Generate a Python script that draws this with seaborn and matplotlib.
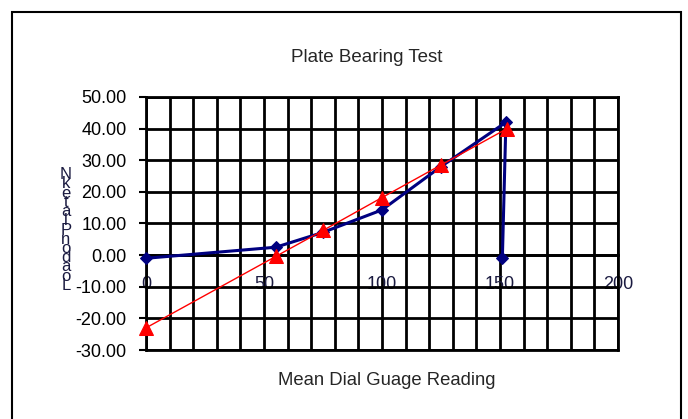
import matplotlib
matplotlib.use("Agg")
import matplotlib.pyplot as plt
import matplotlib.patches as patches
from matplotlib.ticker import MultipleLocator, FormatStrFormatter
import seaborn as sns

# values
measured_x = [0, 55, 75, 100, 125, 152.5, 151]
measured_y = [-1.0, 2.5, 7.2, 14.3, 28.0, 42.0, -1.0]
fitted_x = [0, 55, 75, 100, 125, 153]
fitted_y = [-23.0, -0.4, 7.8, 18.2, 28.5, 40.0]

title = "Plate Bearing Test"
x_label = "Mean Dial Guage Reading"
y_label = "Load on Plate kN"

sns.set_style("white")
plt.rcParams['font.family'] = ['Liberation Sans', 'DejaVu Sans']

fig = plt.figure(figsize=(6.88, 4.19), dpi=100)
ax = fig.add_axes([146 / 688, 1 - 350 / 419, 472 / 688, 253 / 419])

sns.lineplot(x=measured_x, y=measured_y, sort=False, estimator=None, ax=ax,
             color="#000080", linewidth=2.2, marker="D", markersize=6.5,
             markeredgecolor="#000080", zorder=4, clip_on=False)
sns.lineplot(x=fitted_x, y=fitted_y, sort=False, estimator=None, ax=ax,
             color="#ff0000", linewidth=1.0, marker="^", markersize=10,
             markeredgecolor="#ff0000", zorder=5, clip_on=False)

ax.set_xlim(0, 200)
ax.set_ylim(-30, 50)
ax.xaxis.set_major_locator(MultipleLocator(50))
ax.xaxis.set_minor_locator(MultipleLocator(10))
ax.yaxis.set_major_locator(MultipleLocator(10))
ax.yaxis.set_major_formatter(FormatStrFormatter("%.2f"))

ax.set_axisbelow(True)
ax.grid(True, which="both", color="black", linewidth=2.0)
for s in ax.spines.values():
    s.set_color("black")
    s.set_linewidth(2.0)
# x axis crosses at y = 0, like the spreadsheet chart
ax.spines['bottom'].set_position(('data', 0))
ax.axhline(-30, color="black", linewidth=2.0, clip_on=False, zorder=1)

ax.tick_params(axis="y", direction="out", length=5, width=1.5, pad=9,
               labelsize=13, left=True, colors="black")
ax.tick_params(axis="x", which="both", length=0, pad=15, labelsize=13,
               labelcolor="#1a1a40")
ax.set_xlabel("")
ax.set_ylabel("")

fig.text(367 / 688, 1 - 58 / 419, title, ha="center", va="center", fontsize=13.5)
fig.text(387 / 688, 1 - 380 / 419, x_label, ha="center", va="center", fontsize=13.3)

# stacked y label, letters upright and squeezed together
stacked = "\n".join(reversed(y_label.replace(" ", "")))
fig.text(66 / 688, 1 - 230 / 419, stacked, ha="center", va="center",
         fontsize=12, linespacing=0.52, color="#1a1a40")

frame = patches.Rectangle((12 / 688, -0.05), (681 - 12) / 688, 1 - 12 / 419 + 0.05,
                          transform=fig.transFigure, fill=False,
                          edgecolor="black", linewidth=1.5)
fig.patches.append(frame)

fig.savefig("out.png", dpi=100)
